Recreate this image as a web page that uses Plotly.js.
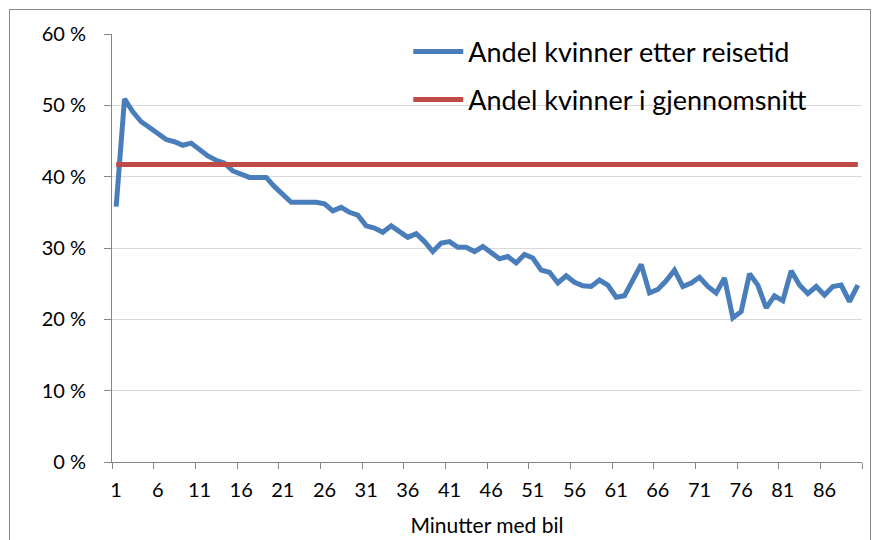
<!DOCTYPE html>
<html>
<head>
<meta charset="utf-8">
<script src="https://cdn.plot.ly/plotly-3.0.1.min.js"></script>
<style>
  html, body { margin: 0; padding: 0; background: #ffffff; }
  #wrap { position: relative; width: 874px; height: 540px; overflow: hidden; }
  #chart { position: absolute; left: 0; top: 0; width: 874px; height: 540px; }
  #frame { position: absolute; left: 9px; top: 9px; width: 862px; height: 600px;
           border: 1px solid #8c8c8c; pointer-events: none; box-sizing: border-box; }
</style>
</head>
<body>
<div id="wrap">
  <div id="chart"></div>
  <div id="frame"></div>
</div>
<script>
// Minutes by car (categories 1..90)
const minutes = [
  1,2,3,4,5,6,7,8,9,10,11,12,13,14,15,16,17,18,19,20,
  21,22,23,24,25,26,27,28,29,30,31,32,33,34,35,36,37,38,39,40,
  41,42,43,44,45,46,47,48,49,50,51,52,53,54,55,56,57,58,59,60,
  61,62,63,64,65,66,67,68,69,70,71,72,73,74,75,76,77,78,79,80,
  81,82,83,84,85,86,87,88,89,90
];
// Share of women by travel time (%)
const shareByTime = [
  35.8,50.9,49.1,47.7,46.9,46.1,45.2,44.9,44.4,44.7,
  43.7,42.9,42.3,41.9,40.8,40.4,39.9,39.9,39.9,38.6,
  37.4,36.4,36.4,36.4,36.4,36.2,35.2,35.7,35.0,34.6,
  33.1,32.8,32.2,33.1,32.3,31.5,32.0,30.9,29.5,30.7,
  30.9,30.1,30.1,29.5,30.2,29.3,28.5,28.8,27.9,29.1,
  28.6,26.9,26.6,25.1,26.1,25.2,24.7,24.6,25.5,24.8,
  23.1,23.3,25.5,27.7,23.7,24.2,25.4,26.9,24.6,25.1,
  25.9,24.6,23.7,25.8,20.2,21.1,26.4,24.8,21.6,23.3,
  22.6,26.8,24.8,23.6,24.6,23.4,24.6,24.8,22.5,24.8
];
// Average share of women (%)
const averageShare = 41.7;
const averageX = [1, 90];
const averageY = [averageShare, averageShare];
const seriesNames = ["Andel kvinner etter reisetid", "Andel kvinner i gjennomsnitt"];
const yTicks = [0, 10, 20, 30, 40, 50, 60];
const yTickText = ["0 %", "10 %", "20 %", "30 %", "40 %", "50 %", "60 %"];
const xTitle = "Minutter med bil";

const FONT = "Lato, 'Open Sans', 'Noto Sans', sans-serif";

const traces = [
  {
    type: "scatter", mode: "lines",
    x: minutes.map(String), y: shareByTime,
    name: seriesNames[0],
    line: { color: "#4a7ebb", width: 5 },
    legend: "legend"
  },
  {
    type: "scatter", mode: "lines",
    x: averageX.map(String), y: averageY,
    name: seriesNames[1],
    line: { color: "#be4b48", width: 5 },
    legend: "legend2"
  }
];

const legendCommon = {
  xanchor: "left", yanchor: "middle",
  bgcolor: "rgba(0,0,0,0)", borderwidth: 0,
  font: { family: FONT, size: 27, color: "#000000" },
  itemwidth: 50
};

const layout = {
  width: 874, height: 540,
  paper_bgcolor: "#ffffff", plot_bgcolor: "#ffffff",
  margin: { l: 112, r: 12, t: 34, b: 78, autoexpand: false },
  font: { family: FONT, size: 20, color: "#000000" },
  xaxis: {
    type: "category",
    categoryorder: "array", categoryarray: minutes.map(String),
    range: [-0.5, 89.5],
    tickmode: "linear", tick0: 0, dtick: 5,
    tickson: "boundaries",
    tickangle: 0,
    ticks: "outside", ticklen: 6, tickcolor: "#868686",
    ticklabelstandoff: 10,
    showline: true, linecolor: "#868686", linewidth: 1,
    showgrid: false, zeroline: false,
    tickfont: { family: FONT, size: 20 },
    automargin: false,
    title: { text: xTitle, font: { family: FONT, size: 21 }, standoff: 18 }
  },
  yaxis: {
    range: [0, 60],
    tickmode: "array", tickvals: yTicks, ticktext: yTickText,
    ticks: "outside", ticklen: 7, tickcolor: "#868686",
    ticklabelstandoff: 14,
    showline: true, linecolor: "#868686", linewidth: 1,
    showgrid: true, gridcolor: "#d9d9d9", gridwidth: 1,
    zeroline: false, automargin: false,
    tickfont: { family: FONT, size: 20 }
  },
  showlegend: true,
  legend: Object.assign({}, legendCommon, { x: 0.395, y: 0.958 }),
  legend2: Object.assign({}, legendCommon, { x: 0.395, y: 0.846 })
};

Plotly.newPlot("chart", traces, layout, { displayModeBar: false, staticPlot: true });
</script>
</body>
</html>
